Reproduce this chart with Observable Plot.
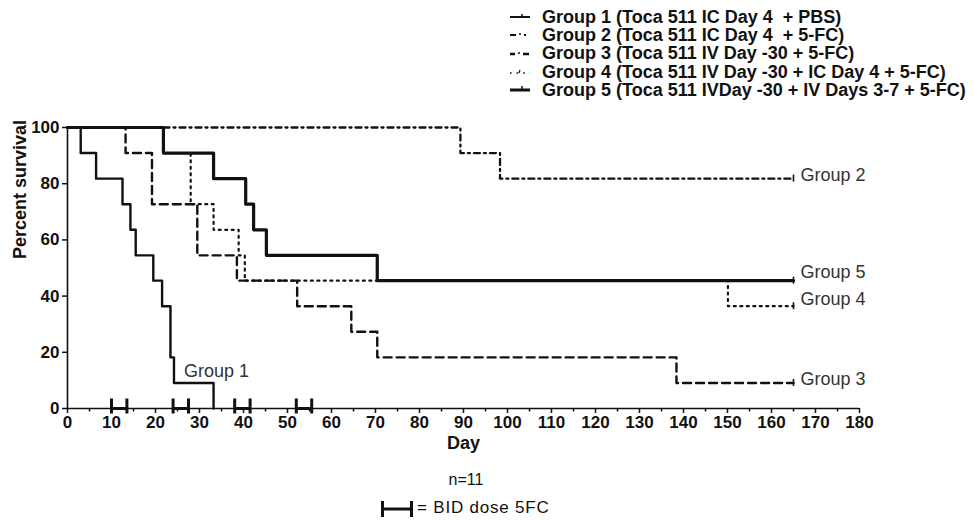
<!DOCTYPE html>
<html><head><meta charset="utf-8">
<script src="https://cdn.jsdelivr.net/npm/d3@7"></script>
<script src="https://cdn.jsdelivr.net/npm/@observablehq/plot@0.6"></script>
<style>
body{margin:0;background:#fff;}
#wrap{position:relative;width:974px;height:520px;overflow:hidden;font-family:"Liberation Sans",Arial,sans-serif;color:#111;background:#fff;}
#chart{position:absolute;left:0;top:0;}
#legend{position:absolute;left:506px;top:8px;font-size:18px;letter-spacing:0px;font-weight:bold;white-space:nowrap;}
#legend .row{display:flex;align-items:center;height:18.3px;}
#legend svg{width:36px;height:12px;flex:none;}
#n{position:absolute;left:466px;top:470px;transform:translateX(-50%);font-size:16px;line-height:20px;}
#bid{position:absolute;left:381px;top:498px;display:flex;align-items:center;font-size:17px;letter-spacing:0.8px;line-height:20px;}
</style></head><body>
<div id="wrap"><div id="chart"></div><div id="legend"></div><div id="n">n=11</div>
<div id="bid"><svg width="34" height="20"><line x1="1.5" y1="3" x2="1.5" y2="19" stroke="#111" stroke-width="3"/><line x1="30.5" y1="3" x2="30.5" y2="19" stroke="#111" stroke-width="3"/><line x1="1.5" y1="11" x2="30.5" y2="11" stroke="#111" stroke-width="3"/></svg><span style="margin-left:2px">= BID dose 5FC</span></div>
</div>
<script>
// ---- data ----
const groups = ["Group 1", "Group 2", "Group 3", "Group 4", "Group 5"];
const legendLabels = [
  "Group 1 (Toca 511 IC Day 4  + PBS)",
  "Group 2 (Toca 511 IC Day 4  + 5-FC)",
  "Group 3 (Toca 511 IV Day -30 + 5-FC)",
  "Group 4 (Toca 511 IV Day -30 + IC Day 4 + 5-FC)",
  "Group 5 (Toca 511 IVDay -30 + IV Days 3-7 + 5-FC)"
];
const g1Days = [0, 3, 6.5, 12.5, 14.3, 15.5, 19.5, 21.5, 23.4, 24.2, 33.2];
const g1Surv = [100, 90.9, 81.8, 72.7, 63.6, 54.5, 45.5, 36.4, 18.2, 9.1, 0];
const g2Days = [0, 89.3, 98.3, 165];
const g2Surv = [100, 90.9, 81.8, 81.8];
const g3Days = [0, 13.2, 19.2, 29.5, 38.5, 52.2, 64.5, 70.4, 138.4, 165];
const g3Surv = [100, 90.9, 72.7, 54.5, 45.5, 36.4, 27.3, 18.2, 9.1, 9.1];
const g4Days = [0, 21.8, 28, 33.2, 38.9, 40.3, 150.1, 165];
const g4Surv = [100, 90.9, 72.7, 63.6, 54.5, 45.5, 36.4, 36.4];
const g5Days = [0, 21.8, 33.2, 40.5, 42.3, 45.2, 70.4, 165];
const g5Surv = [100, 90.9, 81.8, 72.7, 63.6, 54.5, 45.5, 45.5];
const doseStart = [10, 24, 38, 52];
const doseEnd = [13.5, 27.5, 41.5, 55.5];
const xTicks = [0,10,20,30,40,50,60,70,80,90,100,110,120,130,140,150,160,170,180];
const xMinorTicks = [5,15,25,35,45,55,65,75,85,95,105,115,125,135,145,155,165,175];
const yTicks = [0, 20, 40, 60, 80, 100];

// ---- tables ----
const allDays = [g1Days, g2Days, g3Days, g4Days, g5Days];
const allSurv = [g1Surv, g2Surv, g3Surv, g4Surv, g5Surv];
const series = groups.map((g, k) => allDays[k].map((d, i) => ({group: g, day: d, surv: allSurv[k][i]})));
const lastPts = series.map(s => s[s.length - 1]);
const doses = doseStart.map((s, i) => ({start: s, end: doseEnd[i]}));

const ink = "#111";
const styles = [
  {strokeWidth: 2.4},
  {strokeWidth: 2.3, strokeDasharray: "6,4,2,4"},
  {strokeWidth: 2.4, strokeDasharray: "8,5"},
  {strokeWidth: 2.2, strokeDasharray: "2,4.5"},
  {strokeWidth: 3.2}
];

const vbar = {draw(ctx) { ctx.moveTo(0, -10); ctx.lineTo(0, 5); }};
const minorTick = {draw(ctx) { ctx.moveTo(0, 0); ctx.lineTo(0, 3); }};
const censor = {draw(ctx) { ctx.moveTo(0, -4); ctx.lineTo(0, 3); }};

const lineMarks = series.map((s, k) => Plot.line(s, {
  x: "day", y: "surv", curve: "step-after", stroke: ink, ...styles[k]
}));

const labelOffsets = [null, -3, -4, -7, -8];
const labelMarks = [
  Plot.text([series[0][9]], {x: "day", y: "surv", text: d => d.group, dx: 10, dy: -12, textAnchor: "start",
    fontSize: 18, fontWeight: "normal", fill: "#333"})
];
for (let k = 1; k < 5; k++) {
  labelMarks.push(Plot.text([lastPts[k]], {x: "day", y: "surv", text: d => d.group, dx: 7, dy: labelOffsets[k],
    textAnchor: "start", fontSize: 18, fontWeight: "normal", fill: "#333"}));
}

const chart = Plot.plot({
  width: 974, height: 520,
  marginLeft: 67, marginRight: 115, marginTop: 127, marginBottom: 112,
  x: {domain: [0, 180]},
  y: {domain: [0, 100]},
  style: {fontFamily: "Liberation Sans, Arial, sans-serif", fontSize: "17px", fontWeight: "bold", color: ink, background: "#fff", overflow: "visible"},
  marks: [
    Plot.axisX(xTicks, {tickSize: 5, tickPadding: 2, label: null, fontSize: 17, fontWeight: "bold", strokeWidth: 1.5}),
    Plot.dot(xMinorTicks, {x: d => d, y: 0, symbol: minorTick, fill: "none", stroke: ink, strokeWidth: 1.5}),
    Plot.axisY(yTicks, {tickSize: 5, tickPadding: 3, label: null, fontSize: 17, fontWeight: "bold", strokeWidth: 1.5}),
    Plot.ruleY([0], {stroke: ink, strokeWidth: 1.6}),
    Plot.ruleX([0], {stroke: ink, strokeWidth: 1.6}),
    ...lineMarks,
    Plot.dot(lastPts.slice(1), {x: "day", y: "surv", symbol: censor, fill: "none", stroke: ink, strokeWidth: 1.6}),
    Plot.ruleY(doses, {y: 0, x1: "start", x2: "end", stroke: ink, strokeWidth: 3}),
    Plot.dot(doses, {x: "start", y: 0, symbol: vbar, fill: "none", stroke: ink, strokeWidth: 3}),
    Plot.dot(doses, {x: "end", y: 0, symbol: vbar, fill: "none", stroke: ink, strokeWidth: 3}),
    ...labelMarks,
    Plot.text(["Percent survival"], {text: d => d, frameAnchor: "left", rotate: -90, dx: -47, dy: -9, fontSize: 18, fontWeight: "bold"}),
    Plot.text(["Day"], {text: d => d, frameAnchor: "bottom", dy: 40, fontSize: 18, fontWeight: "bold"})
  ]
});
document.getElementById("chart").appendChild(chart);

// ---- legend ----
const swatch = [
  '<line x1="4" y1="6" x2="24" y2="6" stroke="#111" stroke-width="2"/><line x1="16" y1="3" x2="16" y2="7" stroke="#111" stroke-width="1.5"/>',
  '<line x1="4" y1="6" x2="10" y2="6" stroke="#111" stroke-width="2"/><line x1="14" y1="4" x2="14" y2="6" stroke="#111" stroke-width="1.5"/><line x1="18" y1="6" x2="20" y2="6" stroke="#111" stroke-width="2"/>',
  '<line x1="4" y1="6" x2="9" y2="6" stroke="#111" stroke-width="2.5"/><line x1="13" y1="4" x2="13" y2="6" stroke="#111" stroke-width="1.5"/><line x1="17" y1="6" x2="23" y2="6" stroke="#111" stroke-width="2.5"/>',
  '<line x1="4" y1="7" x2="24" y2="7" stroke="#111" stroke-width="1.6" stroke-dasharray="1.6,5"/><line x1="14" y1="4" x2="13" y2="7" stroke="#111" stroke-width="1.2"/>',
  '<line x1="4" y1="6" x2="24" y2="6" stroke="#111" stroke-width="3"/><line x1="16" y1="2" x2="16" y2="6" stroke="#111" stroke-width="1.5"/>'
];
document.getElementById("legend").innerHTML = legendLabels.map((t, i) =>
  `<div class="row"><svg viewBox="0 0 36 12">${swatch[i]}</svg><span style="white-space:pre">${t}</span></div>`).join("");
</script>
</body></html>
